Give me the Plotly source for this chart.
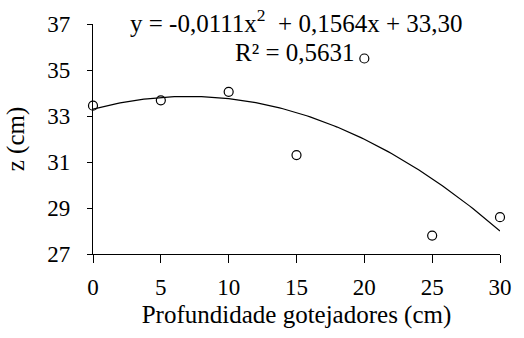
import numpy as np
import plotly.graph_objects as go

# Observed emitter depth vs. z
depth_cm = [0, 5, 10, 15, 20, 25, 30]
z_cm = [33.45, 33.68, 34.05, 31.30, 35.50, 27.80, 28.60]

# Fitted quadratic: y = a x^2 + b x + c
coef_a, coef_b, coef_c = -0.0111, 0.1564, 33.30
r_squared = 0.5631

x_fit = np.linspace(0, 30, 121)
y_fit = coef_a * x_fit**2 + coef_b * x_fit + coef_c

x_ticks = [0, 5, 10, 15, 20, 25, 30]
y_ticks = [27, 29, 31, 33, 35, 37]

font_family = "Liberation Serif"
black = "#000000"

fig = go.Figure()
fig.add_trace(go.Scatter(
    x=x_fit, y=y_fit, mode="lines",
    line=dict(color=black, width=1.2),
    showlegend=False, hoverinfo="skip", cliponaxis=False,
))
fig.add_trace(go.Scatter(
    x=depth_cm, y=z_cm, mode="markers",
    marker=dict(symbol="circle-open", size=9, color=black, line=dict(width=1.2)),
    showlegend=False, cliponaxis=False,
))

eq_text = f"y = {coef_a:.4f}x<sup>2</sup>  + {coef_b:.4f}x + {coef_c:.2f}".replace(".", ",")
r2_text = f"R² = {r_squared:.4f}".replace(".", ",")

fig.add_annotation(
    x=0.5, y=1.014, xref="paper", yref="paper", xanchor="center", yanchor="middle",
    text=eq_text, showarrow=False,
    font=dict(family=font_family, size=25, color=black),
)
fig.add_annotation(
    x=0.497, y=0.878, xref="paper", yref="paper", xanchor="center", yanchor="middle",
    text=r2_text, showarrow=False,
    font=dict(family=font_family, size=25, color=black),
)

fig.update_layout(
    width=524, height=338,
    margin=dict(l=93, r=18, t=19, b=84),
    paper_bgcolor="white", plot_bgcolor="white",
    font=dict(family=font_family, size=23, color=black),
    xaxis=dict(
        range=[0, 30], tickvals=x_ticks, showgrid=False, zeroline=False,
        showline=True, linecolor=black, linewidth=1.2,
        ticks="outside", ticklen=8, tickwidth=1.2, tickcolor=black,
        ticklabelstandoff=4,
        tickfont=dict(family=font_family, size=23, color=black),
        title=dict(text="Profundidade gotejadores (cm)", standoff=6,
                   font=dict(family=font_family, size=25, color=black)),
    ),
    yaxis=dict(
        range=[27, 37], tickvals=y_ticks, showgrid=False, zeroline=False,
        showline=True, linecolor=black, linewidth=1.2,
        ticks="outside", ticklen=5, tickwidth=1.2, tickcolor=black,
        ticklabelstandoff=12,
        tickfont=dict(family=font_family, size=23, color=black),
        title=dict(text="z (cm)", standoff=15,
                   font=dict(family=font_family, size=25, color=black)),
    ),
)

fig.write_html("out.html")
